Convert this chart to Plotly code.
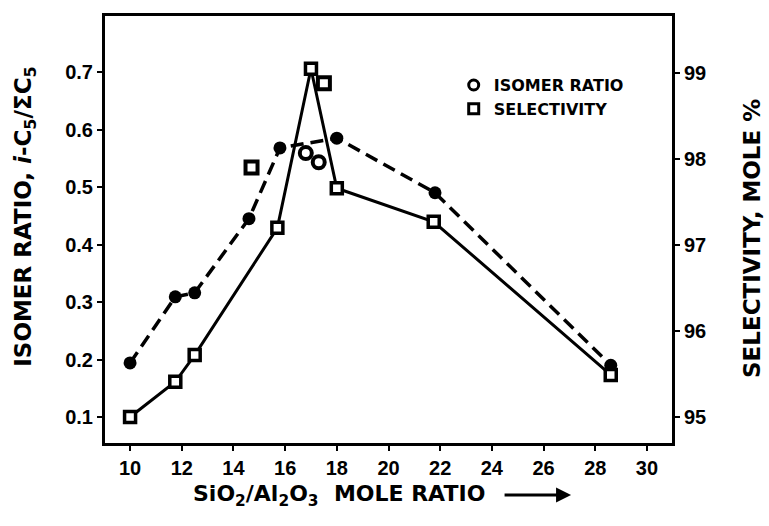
import plotly.graph_objects as go

# SiO2/Al2O3 mole ratio of each catalyst
x_iso = [10.0, 11.75, 12.5, 14.6, 15.8, 18.0, 21.8, 28.6]
isomer_ratio = [0.194, 0.309, 0.316, 0.445, 0.568, 0.585, 0.49, 0.19]
x_iso_extra = [16.8, 17.3]
isomer_ratio_extra = [0.559, 0.543]

x_sel = [10.0, 11.75, 12.5, 15.7, 17.0, 18.0, 21.75, 28.6]
selectivity = [95.0, 95.41, 95.72, 97.2, 99.05, 97.66, 97.27, 95.49]
x_sel_extra = [14.7, 17.5]
selectivity_extra = [97.9, 98.88]

x_ticks = list(range(10, 31, 2))
left_ticks = [0.1, 0.2, 0.3, 0.4, 0.5, 0.6, 0.7]
right_ticks = [95, 96, 97, 98, 99]

FONT = "Liberation Sans, Arial, sans-serif"
WIDE = "DejaVu Sans, Verdana, sans-serif"
BLACK = "#000000"

fig = go.Figure()

# isomer ratio: dashed line with filled circles
fig.add_trace(go.Scatter(
    x=x_iso, y=isomer_ratio, mode="lines+markers", yaxis="y",
    line=dict(color=BLACK, width=3.5, dash="13px,7px"),
    marker=dict(symbol="circle", size=13, color=BLACK),
    showlegend=False, cliponaxis=False,
))
fig.add_trace(go.Scatter(
    x=x_iso_extra, y=isomer_ratio_extra, mode="markers", yaxis="y",
    marker=dict(symbol="circle", size=12, color="white", line=dict(color=BLACK, width=4)),
    showlegend=False,
))

# selectivity: solid line with open squares
fig.add_trace(go.Scatter(
    x=x_sel, y=selectivity, mode="lines+markers", yaxis="y2",
    line=dict(color=BLACK, width=3),
    marker=dict(symbol="square", size=11, color="white", line=dict(color=BLACK, width=3.5)),
    showlegend=False, cliponaxis=False,
))
fig.add_trace(go.Scatter(
    x=x_sel_extra, y=selectivity_extra, mode="markers", yaxis="y2",
    marker=dict(symbol="square", size=12, color="white", line=dict(color=BLACK, width=4)),
    showlegend=False,
))

# legend entries
fig.add_trace(go.Scatter(
    x=[None], y=[None], mode="markers", name="ISOMER RATIO",
    marker=dict(symbol="circle", size=10, color="white", line=dict(color=BLACK, width=3)),
))
fig.add_trace(go.Scatter(
    x=[None], y=[None], mode="markers", name="SELECTIVITY",
    marker=dict(symbol="square", size=10, color="white", line=dict(color=BLACK, width=3)),
))

tick_font = dict(family=FONT, size=20, color=BLACK, weight="bold")

fig.update_layout(
    width=769, height=526,
    margin=dict(l=105, r=97, t=16, b=83),
    paper_bgcolor="white", plot_bgcolor="white",
    font=dict(family=FONT, color=BLACK),
    xaxis=dict(
        range=[9.03, 30.97], tickvals=x_ticks, ticktext=[str(v) for v in x_ticks],
        showgrid=False, zeroline=False,
        showline=True, linecolor=BLACK, linewidth=3, mirror=True,
        ticks="outside", ticklen=5, tickwidth=2, tickcolor=BLACK,
        tickfont=tick_font,
    ),
    yaxis=dict(
        range=[0.0548, 0.7974], tickvals=left_ticks, ticktext=[f"{v:.1f}" for v in left_ticks],
        showgrid=False, zeroline=False,
        showline=True, linecolor=BLACK, linewidth=3,
        ticks="outside", ticklen=5, tickwidth=2, tickcolor=BLACK,
        tickfont=tick_font,
    ),
    yaxis2=dict(
        range=[94.698, 99.663], tickvals=right_ticks, ticktext=[str(v) for v in right_ticks],
        overlaying="y", side="right",
        showgrid=False, zeroline=False,
        showline=True, linecolor=BLACK, linewidth=3,
        ticks="outside", ticklen=5, tickwidth=2, tickcolor=BLACK,
        tickfont=tick_font,
    ),
    legend=dict(
        x=0.615, y=0.878, xanchor="left", yanchor="top",
        bgcolor="rgba(0,0,0,0)", borderwidth=0,
        font=dict(family=WIDE, size=16, color=BLACK, weight="bold"),
        itemwidth=30, tracegroupgap=0,
    ),
)

title_font = dict(family=WIDE, size=23, color=BLACK, weight="bold")

fig.add_annotation(
    text="ISOMER RATIO, <i>i</i>-C<sub>5</sub>/ΣC<sub>5</sub>",
    xref="paper", yref="paper", x=-0.141, y=0.53,
    xanchor="center", yanchor="middle", textangle=-90,
    showarrow=False, font=title_font,
)
fig.add_annotation(
    text="SELECTIVITY, MOLE %",
    xref="paper", yref="paper", x=1.141, y=0.48,
    xanchor="center", yanchor="middle", textangle=-90,
    showarrow=False, font=title_font,
)
fig.add_annotation(
    text="SiO<sub>2</sub>/Al<sub>2</sub>O<sub>3</sub>  MOLE RATIO",
    xref="paper", yref="paper", x=0.152, y=-0.122,
    xanchor="left", yanchor="middle",
    showarrow=False, font=dict(family=WIDE, size=22, color=BLACK, weight="bold"),
)
# arrow after the axis title
fig.add_annotation(
    text="", xref="paper", yref="paper", x=0.822, y=-0.122,
    ax=-68, ay=0, showarrow=True,
    arrowhead=2, arrowsize=1, arrowwidth=3, arrowcolor=BLACK,
)

fig.write_html("out.html")
